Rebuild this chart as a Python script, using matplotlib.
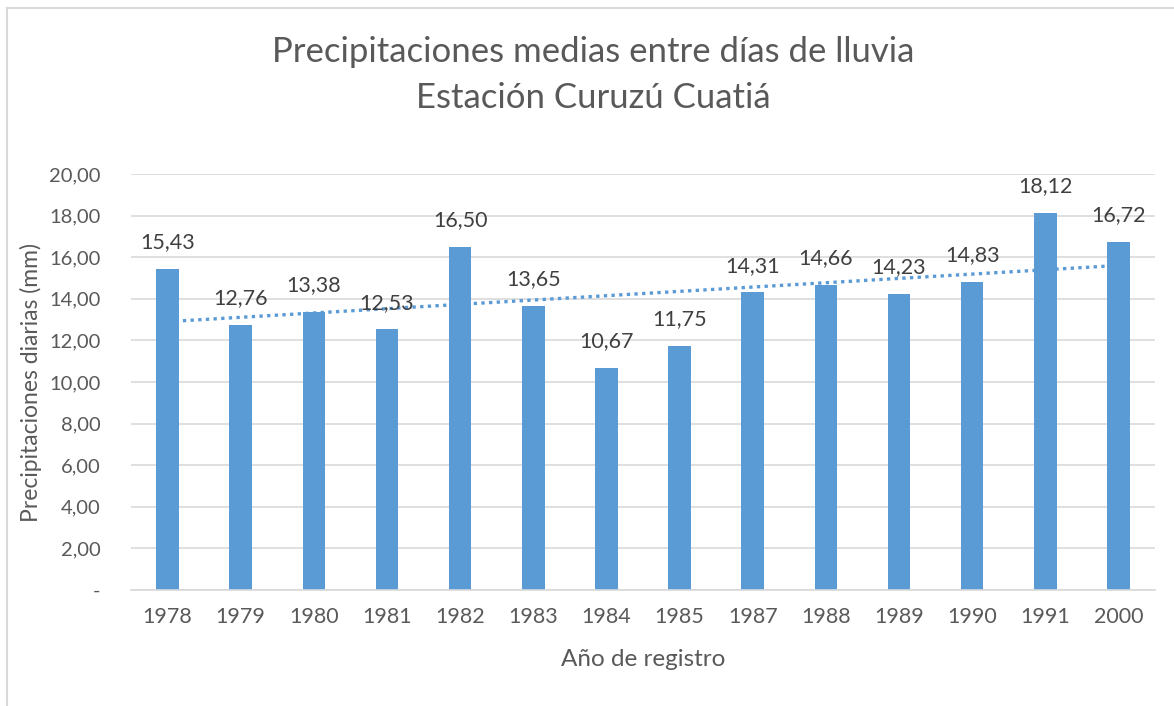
import matplotlib
matplotlib.use("Agg")
import matplotlib.pyplot as plt
import numpy as np
from matplotlib.lines import Line2D

years = ["1978", "1979", "1980", "1981", "1982", "1983", "1984", "1985",
         "1987", "1988", "1989", "1990", "1991", "2000"]
values = [15.43, 12.76, 13.38, 12.53, 16.50, 13.65, 10.67, 11.75,
          14.31, 14.66, 14.23, 14.83, 18.12, 16.72]
yticks = [0, 2, 4, 6, 8, 10, 12, 14, 16, 18, 20]
ytick_labels = ["-", "2,00", "4,00", "6,00", "8,00", "10,00", "12,00",
                "14,00", "16,00", "18,00", "20,00"]

plt.rcParams['font.family'] = ['Lato', 'DejaVu Sans']
W, H = 1174, 706
fig = plt.figure(figsize=(W / 100, H / 100), dpi=100)
ax = fig.add_axes([131 / W, 1 - 590 / H, (1155 - 131) / W, (590 - 174) / H])

bar_c = "#5B9BD5"
txt_c = "#595959"
x = np.arange(len(years))
ax.bar(x, values, width=0.31, color=bar_c, zorder=2)
ax.set_xlim(-0.5, len(years) - 0.5)
ax.set_ylim(0, 20)

# trendline
coef = np.polyfit(x, values, 1)
ax.plot(x[[0, -1]], np.polyval(coef, x[[0, -1]]), linestyle=(0, (1, 1.3)),
        color=bar_c, lw=2.4, zorder=3)

for xi, v in zip(x, values):
    ax.annotate(f"{v:.2f}".replace(".", ","), (xi, v), xytext=(0, 12),
                textcoords="offset points", ha="center", va="bottom",
                fontsize=15.5, color="#404040", zorder=4)

ax.set_yticks(yticks)
ax.set_yticklabels(ytick_labels)
ax.set_xticks(x)
ax.set_xticklabels(years)
ax.tick_params(axis="y", length=0, labelsize=14.5, labelcolor=txt_c, pad=22)
ax.tick_params(axis="x", length=0, labelsize=15.5, labelcolor=txt_c, pad=12)
ax.grid(axis="y", color="#D9D9D9", lw=1.2, zorder=0)
for s in ["top", "right", "left"]:
    ax.spines[s].set_visible(False)
ax.spines["bottom"].set_color("#D9D9D9")
ax.spines["bottom"].set_linewidth(1.2)

ax.set_xlabel("Año de registro", fontsize=17.5, color=txt_c, labelpad=16)
ax.set_ylabel("Precipitaciones diarias (mm)", fontsize=16.5, color=txt_c, labelpad=5)

fig.text(593 / W, 1 - 52 / H, "Precipitaciones medias entre días de lluvia",
         ha="center", va="center", fontsize=25, color=txt_c)
fig.text(593 / W, 1 - 98 / H, "Estación Curuzú Cuatiá",
         ha="center", va="center", fontsize=25, color=txt_c)

# chart-area border (top and left visible in the crop)
fig.add_artist(Line2D([7 / W, 1], [1 - 8 / H, 1 - 8 / H], transform=fig.transFigure,
                      color="#D9D9D9", lw=1.5))
fig.add_artist(Line2D([7 / W, 7 / W], [0, 1 - 8 / H], transform=fig.transFigure,
                      color="#D9D9D9", lw=1.5))

fig.savefig("out.png", dpi=100)
